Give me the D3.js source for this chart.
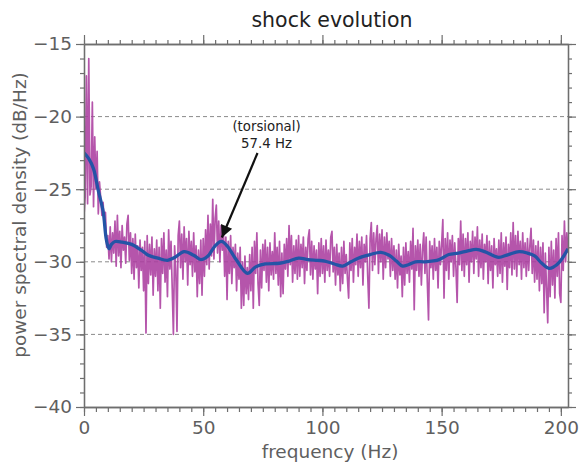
<!DOCTYPE html>
<html><head><meta charset="utf-8">
<script src="https://cdn.jsdelivr.net/npm/d3@7"></script>
<style>body{margin:0;background:#fff}svg{display:block;font-family:"DejaVu Sans",sans-serif}</style>
</head><body>
<svg id="chart" width="581" height="468"></svg>
<script>
// ---- data ----
const titleText = "shock evolution";
const xLabelText = "frequency (Hz)";
const yLabelText = "power spectral density (dB/Hz)";
const xTicks = [0, 50, 100, 150, 200];
const yTicks = [-40, -35, -30, -25, -20, -15];
const gridLevels = [-35, -30, -25, -20];
const freqStep = 0.5; // Hz between PSD samples
const psdValues = [
 -26.8,-25.5,-17.2,-26.0,-16.0,-25.4,-24.8,-19.0,-26.2,-21.4,-25.0,-22.4,-26.7,-24.5,-25.6,-26.8,-25.9,-27.4,-26.6,-29.0,
 -28.2,-29.8,-27.6,-30.0,-28.0,-29.4,-27.2,-30.3,-26.8,-29.6,-27.9,-30.4,-27.5,-29.2,-28.3,-30.1,-27.4,-26.8,-29.9,-28.0,
 -30.8,-28.4,-31.2,-28.1,-30.4,-28.9,-31.8,-28.5,-30.6,-29.0,-32.0,-28.6,-34.9,-28.2,-31.5,-28.8,-30.9,-28.3,-32.3,-29.1,
 -31.0,-28.5,-32.0,-29.0,-33.2,-28.4,-30.8,-28.0,-31.4,-29.2,-32.4,-27.8,-30.5,-28.6,-31.8,-35.0,-28.9,-30.6,-34.8,-28.2,
 -27.2,-30.4,-28.1,-31.2,-27.6,-30.0,-28.4,-31.6,-27.9,-30.2,-28.6,-31.0,-28.0,-30.7,-28.9,-32.4,-29.2,-31.5,-28.5,-32.3,
 -28.4,-31.0,-27.8,-30.2,-26.8,-30.5,-27.4,-29.6,-25.7,-29.8,-27.0,-26.1,-29.4,-27.2,-30.0,-27.5,-29.2,-27.9,-31.0,-28.3,
 -32.6,-28.6,-30.8,-28.2,-31.5,-29.0,-30.4,-28.8,-32.0,-29.4,-31.2,-29.0,-33.2,-30.0,-33.0,-29.6,-32.2,-30.4,-32.6,-29.5,
 -32.0,-29.0,-33.2,-28.6,-30.8,-28.0,-31.5,-33.0,-29.2,-31.8,-28.8,-30.6,-28.5,-31.4,-29.0,-32.0,-28.7,-30.9,-29.3,-31.2,
 -28.0,-30.8,-29.0,-31.6,-28.6,-32.4,-29.4,-32.2,-28.8,-30.5,-28.4,-31.0,-27.5,-30.2,-28.2,-31.4,-28.9,-30.8,-28.5,-31.2,
 -28.2,-31.0,-28.8,-30.4,-28.3,-31.5,-29.0,-30.6,-28.4,-27.8,-30.9,-28.6,-31.2,-28.9,-30.5,-29.2,-32.2,-28.7,-31.0,-28.4,
 -30.8,-28.9,-31.4,-28.5,-30.6,-29.2,-31.0,-28.3,-27.9,-30.7,-29.0,-31.6,-28.8,-30.9,-29.4,-32.0,-29.0,-31.5,-28.6,-30.8,
 -29.5,-31.2,-32.5,-28.7,-30.6,-28.4,-31.4,-29.0,-30.2,-28.1,-31.0,-28.6,-30.4,-28.3,-31.6,-28.8,-30.0,-28.2,-31.0,-33.2,
 -28.4,-27.3,-30.6,-28.0,-30.2,-28.4,-27.5,-30.8,-28.1,-30.0,-27.8,-31.2,-28.3,-30.4,-28.0,-29.8,-28.6,-31.0,-28.4,-30.6,
 -28.9,-31.2,-29.2,-31.8,-28.8,-30.9,-29.6,-32.4,-29.0,-31.6,-28.7,-30.8,-29.3,-31.4,-28.6,-30.5,-27.7,-33.3,-28.9,-30.6,
 -28.5,-31.0,-28.8,-31.6,-29.2,-28.0,-30.8,-28.3,-31.4,-34.0,-28.6,-30.4,-28.9,-31.2,-28.4,-30.6,-29.0,-31.8,-28.6,-30.2,
 -28.8,-27.1,-32.5,-28.4,-30.6,-28.0,-31.2,-28.5,-30.0,-28.2,-31.0,-28.7,-30.4,-32.8,-28.4,-30.2,-27.2,-30.6,-28.1,-31.0,
 -28.4,-30.2,-28.0,-31.4,-28.6,-30.0,-27.9,-30.8,-28.3,-29.8,-27.6,-31.0,-28.5,-30.4,-28.1,-31.2,-28.8,-30.0,-28.2,-31.5,
 -28.6,-30.6,-28.9,-31.8,-28.4,-30.2,-29.1,-31.0,-28.5,-30.8,-28.0,-31.4,-28.7,-30.3,-28.3,-31.9,-28.8,-30.4,-28.0,-30.9,
 -27.3,-30.5,-28.2,-31.0,-27.9,-30.2,-28.6,-31.2,-28.0,-30.4,-28.7,-31.0,-28.4,-30.6,-28.9,-27.7,-30.8,-28.5,-31.4,-28.9,
 -31.2,-28.6,-32.0,-29.0,-31.5,-28.7,-33.5,-29.4,-31.8,-34.2,-29.0,-32.4,-28.6,-31.6,-29.2,-32.5,-28.4,-31.0,-28.0,-32.2,
 -32.8,-28.2,-30.6,-27.2,-30.0,-28.0,-29.4
];
// smoothed trend (frequency Hz, dB/Hz)
const smoothFreq = [0,2,4,6,8,9.4,10.5,11.5,13,16,20,24,27,31,35,38,42,46,49,52,55,57.6,60,64,68.5,72,76,82,86,90,94,98,101,105,108.5,112,115,120,124.5,128,131,133.6,136,139,143,149,153,157,161,164.5,168,172,174,178,182.5,186,189,192,195,197,199.5,203];
const smoothVal = [-22.5,-22.9,-23.6,-25.1,-26.5,-28.5,-29.1,-28.8,-28.6,-28.65,-28.8,-29.2,-29.55,-29.75,-29.9,-29.7,-29.3,-29.55,-29.85,-29.6,-28.9,-28.6,-28.9,-29.9,-30.8,-30.35,-30.15,-30.1,-29.95,-29.75,-29.85,-29.9,-29.95,-30.15,-30.3,-30.0,-29.75,-29.5,-29.35,-29.55,-29.95,-30.3,-30.2,-30.0,-30.0,-29.85,-29.5,-29.4,-29.25,-29.15,-29.3,-29.6,-29.7,-29.5,-29.3,-29.4,-29.6,-30.1,-30.45,-30.35,-30.0,-29.1];
const annotationLines = ["(torsional)", "57.4 Hz"];
const annotationFreq = 57.4;
const annotationVal = -28.6;

// ---- layout ----
const svg = d3.select("#chart");
const L = 84, R = 568, T = 44, B = 407;
const x = d3.scaleLinear().domain([0, 203]).range([L, R]);
const y = d3.scaleLinear().domain([-40, -15]).range([B, T]);
const axisColor = "#6e6e6e", textColor = "#5f5f5f";

svg.append("defs").append("clipPath").attr("id","clip")
  .append("rect").attr("x",L).attr("y",T).attr("width",R-L).attr("height",B-T);

// grid
svg.append("g").selectAll("line").data(gridLevels).join("line")
  .attr("x1",L).attr("x2",R).attr("y1",d=>y(d)).attr("y2",d=>y(d))
  .attr("stroke","#8a8a8a").attr("stroke-width",1).attr("stroke-dasharray","4,3");

const psd = psdValues.map((v,i)=>({f:i*freqStep, v}));
const plot = svg.append("g").attr("clip-path","url(#clip)");
plot.append("path").datum(psd)
  .attr("d", d3.line().x(d=>x(d.f)).y(d=>y(d.v)))
  .attr("fill","none").attr("stroke","#ab3d9f").attr("stroke-opacity",0.88)
  .attr("stroke-width",1.7).attr("stroke-linejoin","round");

const smooth = smoothFreq.map((f,i)=>({f, v:smoothVal[i]}));
plot.append("path").datum(smooth)
  .attr("d", d3.line().curve(d3.curveCatmullRom.alpha(0.5)).x(d=>x(d.f)).y(d=>y(d.v)))
  .attr("fill","none").attr("stroke","#2454a6").attr("stroke-width",3.3).attr("stroke-linejoin","round");

// axes
function styleAxis(g){
  g.select(".domain").attr("stroke",axisColor).attr("stroke-width",1.3);
  g.selectAll(".tick line").attr("stroke",axisColor).attr("stroke-width",1.2);
  g.selectAll("text").attr("fill",textColor).attr("font-size",18.5).attr("font-family","DejaVu Sans");
}
const xMinor = d3.range(0, 205, 5);
const yMinor = d3.range(-40, -14, 1);

// bottom
svg.append("g").attr("transform",`translate(0,${B})`)
  .call(d3.axisBottom(x).tickValues(xMinor).tickSize(5).tickFormat("").tickSizeOuter(0)).call(styleAxis);
svg.append("g").attr("transform",`translate(0,${B})`)
  .call(d3.axisBottom(x).tickValues(xTicks).tickSize(9).tickPadding(4).tickSizeOuter(0)).call(styleAxis)
  .call(g=>g.selectAll("text").attr("dy","0.75em"));
// top
svg.append("g").attr("transform",`translate(0,${T})`)
  .call(d3.axisTop(x).tickValues(xMinor).tickSize(4).tickFormat("").tickSizeOuter(0)).call(styleAxis);
svg.append("g").attr("transform",`translate(0,${T})`)
  .call(d3.axisTop(x).tickValues(xTicks).tickSize(9).tickFormat("").tickSizeOuter(0)).call(styleAxis);
// left
svg.append("g").attr("transform",`translate(${L},0)`)
  .call(d3.axisLeft(y).tickValues(yMinor).tickSize(4).tickFormat("").tickSizeOuter(0)).call(styleAxis);
svg.append("g").attr("transform",`translate(${L},0)`)
  .call(d3.axisLeft(y).tickValues(yTicks).tickSize(8).tickPadding(4).tickSizeOuter(0)).call(styleAxis);
// right
svg.append("g").attr("transform",`translate(${R},0)`)
  .call(d3.axisRight(y).tickValues(yMinor).tickSize(4).tickFormat("").tickSizeOuter(0)).call(styleAxis);
svg.append("g").attr("transform",`translate(${R},0)`)
  .call(d3.axisRight(y).tickValues(yTicks).tickSize(8).tickFormat("").tickSizeOuter(0)).call(styleAxis);

// titles
svg.append("text").attr("x",332).attr("y",27).attr("text-anchor","middle")
  .attr("font-size",20.5).attr("fill","#222").text(titleText);
svg.append("text").attr("x",330).attr("y",458).attr("text-anchor","middle")
  .attr("font-size",18.5).attr("fill",textColor).text(xLabelText);
svg.append("text").attr("transform","translate(26,215) rotate(-90)").attr("text-anchor","middle")
  .attr("font-size",18.5).attr("fill",textColor).text(yLabelText);

// annotation
const ann = svg.append("text").attr("text-anchor","middle").attr("font-size",13.3).attr("fill","#222");
annotationLines.forEach((t,i)=>ann.append("tspan").attr("x",266.5).attr("y",131+i*16.5).text(t));
svg.append("defs").append("marker").attr("id","ah").attr("viewBox","0 0 10 10")
  .attr("refX",10).attr("refY",5).attr("markerWidth",7).attr("markerHeight",5.5)
  .attr("markerUnits","strokeWidth").attr("orient","auto")
  .append("path").attr("d","M0,0 L10,5 L0,10 Z").attr("fill","#111");
const tipX = x(annotationFreq) + 1, tipY = y(annotationVal) - 4;
svg.append("line").attr("x1",257.5).attr("y1",153).attr("x2",tipX).attr("y2",tipY)
  .attr("stroke","#111").attr("stroke-width",2.2).attr("marker-end","url(#ah)");
</script>
</body></html>
